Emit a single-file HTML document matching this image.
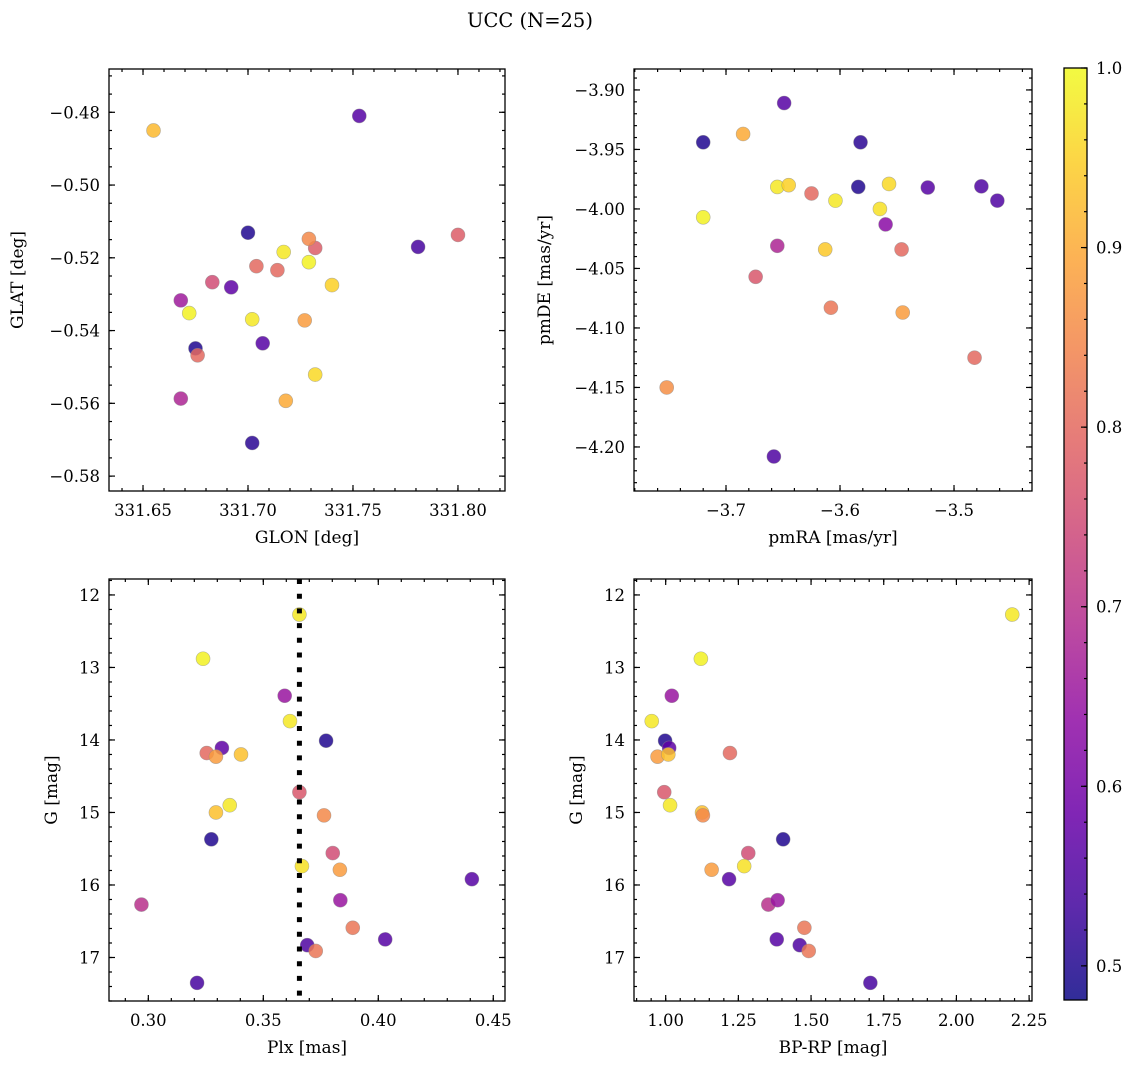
<!DOCTYPE html>
<html><head><meta charset="utf-8">
<style>
html,body{margin:0;padding:0;background:#fff;}
svg{display:block;font-family:"DejaVu Serif","Liberation Serif",serif;}
</style></head>
<body>
<svg id="fig" width="1136" height="1068" viewBox="0 0 1136 1068" xmlns="http://www.w3.org/2000/svg">
<text x="530" y="27" font-size="19.5" text-anchor="middle">UCC (N=25)</text>
<g id="root"></g>
</svg>
<script>
// Panel 1: GLON vs GLAT
const glon1 = [331.655,331.753,331.800,331.781,331.700,331.732,331.729,331.717,331.729,331.704,331.714,331.740,331.683,331.692,331.668,331.672,331.702,331.727,331.707,331.675,331.676,331.732,331.668,331.718,331.702];
const glat1 = [-0.485,-0.481,-0.5137,-0.517,-0.5131,-0.5173,-0.5148,-0.5184,-0.5212,-0.5223,-0.5234,-0.5275,-0.5267,-0.5281,-0.5317,-0.5352,-0.5369,-0.5372,-0.5435,-0.5449,-0.5468,-0.5521,-0.5587,-0.5593,-0.5709];
const prob1 = [0.92,0.56,0.78,0.54,0.50,0.78,0.85,0.98,0.99,0.80,0.80,0.95,0.75,0.57,0.66,0.99,0.98,0.88,0.56,0.50,0.80,0.96,0.68,0.90,0.51];
// Panel 2: pmRA vs pmDE
const pmra2 = [-3.720,-3.649,-3.685,-3.582,-3.655,-3.645,-3.557,-3.584,-3.523,-3.476,-3.462,-3.625,-3.604,-3.720,-3.565,-3.560,-3.655,-3.613,-3.546,-3.674,-3.608,-3.545,-3.482,-3.752,-3.658];
const pmde2 = [-3.944,-3.911,-3.937,-3.944,-3.9815,-3.980,-3.979,-3.9815,-3.982,-3.981,-3.993,-3.987,-3.993,-4.007,-4.000,-4.013,-4.031,-4.034,-4.034,-4.057,-4.083,-4.087,-4.125,-4.150,-4.208];
const prob2 = [0.50,0.56,0.90,0.51,0.98,0.95,0.96,0.50,0.56,0.55,0.55,0.80,0.98,0.99,0.97,0.63,0.68,0.94,0.80,0.77,0.82,0.88,0.80,0.86,0.55];
// Panels 3 & 4: Plx, BP-RP, G
const plx = [0.3657,0.3238,0.3593,0.3616,0.3773,0.3320,0.3254,0.3294,0.3403,0.3657,0.3354,0.3294,0.3764,0.3274,0.3802,0.3668,0.3833,0.4407,0.2970,0.3835,0.3889,0.4030,0.3691,0.3728,0.3212];
const bprp = [2.192,1.121,1.021,0.952,0.998,1.012,1.221,0.972,1.009,0.995,1.015,1.125,1.128,1.404,1.284,1.270,1.158,1.218,1.353,1.385,1.477,1.382,1.461,1.492,1.704];
const gmag = [12.27,12.88,13.39,13.74,14.01,14.11,14.18,14.23,14.20,14.72,14.90,15.00,15.04,15.37,15.56,15.74,15.79,15.92,16.27,16.21,16.59,16.75,16.83,16.91,17.35];
const prob34 = [0.98,0.99,0.65,0.98,0.50,0.57,0.80,0.88,0.93,0.77,0.98,0.93,0.85,0.50,0.75,0.97,0.88,0.56,0.70,0.65,0.82,0.56,0.55,0.82,0.54];
const plxLine = 0.3657;
const cbTicks = [0.5,0.6,0.7,0.8,0.9,1.0];

const NS="http://www.w3.org/2000/svg";
const root=document.getElementById('root');
function el(tag,attrs,parent){const e=document.createElementNS(NS,tag);for(const k in attrs)e.setAttribute(k,attrs[k]);(parent||root).appendChild(e);return e;}
const stops=["#0d0887","#41049d","#6a00a8","#8f0da4","#b12a90","#cc4778","#e16462","#f2844b","#fca636","#fcce25","#f0f921"];
function hex(h){return [parseInt(h.substr(1,2),16),parseInt(h.substr(3,2),16),parseInt(h.substr(5,2),16)];}
const CMIN=0.481,CMAX=1.0;
function plasma(v){let t=(v-CMIN)/(CMAX-CMIN);t=Math.max(0,Math.min(1,t));const p=t*10;const i=Math.min(9,Math.floor(p));const f=p-i;const a=hex(stops[i]),b=hex(stops[i+1]);return 'rgb('+a.map((x,k)=>Math.round(x+(b[k]-x)*f)).join(',')+')';}
function fmt(v,d){const s=Math.abs(v).toFixed(d);return (v<-1e-9?'\u2212':'')+s;}

function panel(o){
  const g=el('g',{});
  
  
  const sx=v=>o.L+(v-o.x0)/(o.x1-o.x0)*o.W;
  const sy=v=>o.yinv? o.T+(v-o.y0)/(o.y1-o.y0)*o.H : o.T+o.H-(v-o.y0)/(o.y1-o.y0)*o.H;
  const tg=el('g',{stroke:'#000','stroke-width':1.2},g);
  
  
  function ticks(a0,a1,step,fn){const n0=Math.ceil(a0/step-1e-6),n1=Math.floor(a1/step+1e-6);for(let n=n0;n<=n1;n++)fn(n*step);}
  const xl=Math.min(o.x0,o.x1),xh=Math.max(o.x0,o.x1),yl=Math.min(o.y0,o.y1),yh=Math.max(o.y0,o.y1);
  ticks(xl,xh,o.xminor,v=>{const x=sx(v);el('line',{x1:x,x2:x,y1:o.T+o.H,y2:o.T+o.H-3},tg);el('line',{x1:x,x2:x,y1:o.T,y2:o.T+3},tg);});
  ticks(yl,yh,o.yminor,v=>{const y=sy(v);el('line',{x1:o.L,x2:o.L+3,y1:y,y2:y},tg);el('line',{x1:o.L+o.W,x2:o.L+o.W-3,y1:y,y2:y},tg);});
  ticks(xl,xh,o.xmajor,v=>{const x=sx(v);el('line',{x1:x,x2:x,y1:o.T+o.H,y2:o.T+o.H-6},tg);el('line',{x1:x,x2:x,y1:o.T,y2:o.T+6},tg);
    const t=el('text',{x:x,y:o.T+o.H+25,'font-size':16.5,'text-anchor':'middle'},g);t.textContent=fmt(v,o.xd);
    
    });
  ticks(yl,yh,o.ymajor,v=>{const y=sy(v);el('line',{x1:o.L,x2:o.L+6,y1:y,y2:y},tg);el('line',{x1:o.L+o.W,x2:o.L+o.W-6,y1:y,y2:y},tg);
    const t=el('text',{x:o.L-9,y:y+6,'font-size':16.5,'text-anchor':'end'},g);t.textContent=fmt(v,o.yd);
    
    });
  for(let i=0;i<o.xs.length;i++){
    const c=el('circle',{cx:sx(o.xs[i]),cy:sy(o.ys[i]),r:7,fill:plasma(o.cs[i]),'fill-opacity':0.85,stroke:'#888','stroke-opacity':0.6,'stroke-width':0.6},g);
    
    
  }
  if(o.vline!==undefined){const x=sx(o.vline);const ln=el('line',{x1:x,x2:x,y1:o.T,y2:o.T+o.H,stroke:'#000','stroke-width':5,'stroke-dasharray':'5 9.7'},g);
    
    }
  const fr=el('rect',{x:o.L,y:o.T,width:o.W,height:o.H,fill:'none',stroke:'#000','stroke-width':1.3},g);
  
  
  const xt=el('text',{x:o.L+o.W/2,y:o.T+o.H+52,'font-size':17,'text-anchor':'middle'},g);xt.textContent=o.xlabel;
  
  
  const yt=el('text',{x:o.ylx,y:o.T+o.H/2,'font-size':17,'text-anchor':'middle',transform:'rotate(-90 '+o.ylx+' '+(o.T+o.H/2)+')'},g);yt.textContent=o.ylabel;
  
  
}
panel({name:'glon-glat-panel',L:109,T:69,W:396,H:422,x0:331.6338,x1:331.8224,y0:-0.5841,y1:-0.4681,xmajor:0.05,xminor:0.01,ymajor:0.02,yminor:0.005,xd:2,yd:2,xs:glon1,ys:glat1,cs:prob1,xlabel:'GLON [deg]',ylabel:'GLAT [deg]',ylx:23});
panel({name:'proper-motion-panel',L:634,T:69,W:398,H:422,x0:-3.7807,x1:-3.4316,y0:-4.237,y1:-3.8824,xmajor:0.1,xminor:0.02,ymajor:0.05,yminor:0.01,xd:1,yd:2,xs:pmra2,ys:pmde2,cs:prob2,xlabel:'pmRA [mas/yr]',ylabel:'pmDE [mas/yr]',ylx:550});
panel({name:'plx-g-panel',L:109,T:579,W:396,H:422,x0:0.2829,x1:0.4551,y0:11.78,y1:17.6,yinv:true,xmajor:0.05,xminor:0.01,ymajor:1,yminor:0.2,xd:2,yd:0,xs:plx,ys:gmag,cs:prob34,vline:plxLine,xlabel:'Plx [mas]',ylabel:'G [mag]',ylx:57});
panel({name:'cmd-panel',L:634,T:579,W:398,H:422,x0:0.891,x1:2.260,y0:11.78,y1:17.6,yinv:true,xmajor:0.25,xminor:0.05,ymajor:1,yminor:0.2,xd:2,yd:0,xs:bprp,ys:gmag,cs:prob34,xlabel:'BP-RP [mag]',ylabel:'G [mag]',ylx:582});

const cb=el('g',{});


const CL=1064,CT=68,CW=23,CH=932;
const defs=el('defs',{},cb);
const lg=el('linearGradient',{id:'cbg',x1:0,y1:1,x2:0,y2:0},defs);
for(let i=0;i<=20;i++){el('stop',{offset:i/20,'stop-color':plasma(CMIN+(CMAX-CMIN)*i/20),'stop-opacity':0.85},lg);}
el('rect',{x:CL,y:CT,width:CW,height:CH,fill:'url(#cbg)'},cb);
const cy=v=>CT+CH-(v-CMIN)/(CMAX-CMIN)*CH;
for(let v=0.5;v<=1.0001;v+=0.02){el('line',{x1:CL+CW,x2:CL+CW-3,y1:cy(v),y2:cy(v),stroke:'#000','stroke-width':1.2},cb);}
cbTicks.forEach(v=>{const y=cy(v);el('line',{x1:CL+CW,x2:CL+CW-6,y1:y,y2:y,stroke:'#000','stroke-width':1.2},cb);
  const t=el('text',{x:CL+CW+9,y:y+6,'font-size':16.5},cb);t.textContent=v.toFixed(1);
  
  });
el('rect',{x:CL,y:CT,width:CW,height:CH,fill:'none',stroke:'#000','stroke-width':1.3},cb);
</script>
</body></html>
